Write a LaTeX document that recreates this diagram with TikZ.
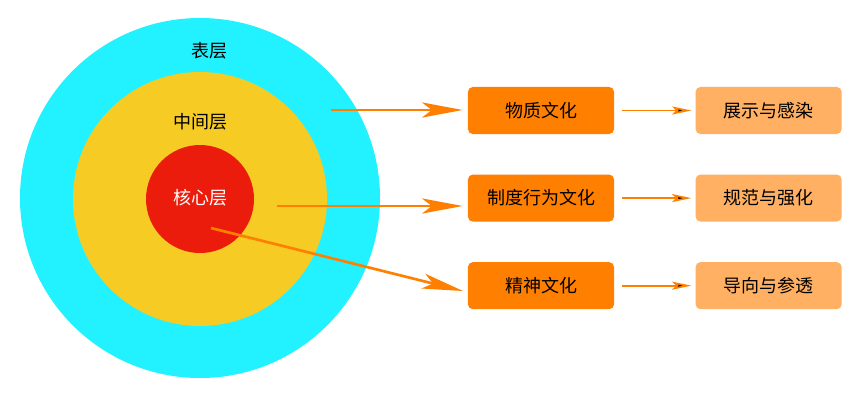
\documentclass[tikz,border=0pt]{standalone}
\usepackage{fontspec}
\setmainfont{Noto Sans CJK SC}
\usetikzlibrary{positioning}
\usetikzlibrary{arrows.meta}
\definecolor{outercyan}{HTML}{22F2FF}
\definecolor{middleyellow}{HTML}{F6CB23}
\definecolor{corered}{HTML}{EC1C0C}
\definecolor{culturefill}{HTML}{FF7F00}
\definecolor{effectfill}{HTML}{FFB062}
\tikzset{layer label/.style={font=\fontsize{12.8}{14}\selectfont, inner sep=0pt},}
\tikzset{culture node/.style={rectangle,rounded corners=0.12cm,fill=culturefill,minimum width=3.65cm,minimum height=1.175cm,inner sep=0pt,font=\fontsize{12.8}{14}\selectfont},}
\tikzset{effect node/.style={culture node,fill=effectfill},}
\tikzset{big arrow/.style={-{Stealth[length=1.02cm,width=0.38cm,inset=0.25cm]},line width=1.9pt,draw=culturefill},}
\tikzset{small arrow/.style={-{Stealth[length=0.48cm,width=0.2cm,inset=0.1cm]},line width=1.2pt,draw=culturefill},}

\begin{document}
\begin{tikzpicture}[x=0.025cm,y=-0.025cm]
     \useasboundingbox (0,0) rectangle (846,403);
     \fill[outercyan] (200,198) circle (180);
     \fill[middleyellow] (200,199) circle (127);
     \fill[corered] (200,199) circle (54);

     \node[layer label] (biao) at (209,51) {表层};
     \node[layer label] (zhong) at (200,122) {中间层};
     \node[layer label,text=white] (he) at (200,198) {核心层};

     \node[culture node] (wuzhi) at (541,110.5) {物质文化};
     \node[culture node] (zhidu) [below = 1cm of wuzhi] {制度行为文化};
     \node[culture node] (jingshen) [below = 1cm of zhidu] {精神文化};
     \node[effect node] (zhanshi) [right = 2.025cm of wuzhi] {展示与感染};
     \node[effect node] (guifan) [right = 2.025cm of zhidu] {规范与强化};
     \node[effect node] (daoxiang) [right = 2.025cm of jingshen] {导向与参透};

     \coordinate (biao out) at (331,110);
     \coordinate (zhong out) at (277,206);
     \coordinate (he out) at (211,228);
     \coordinate (jingshen in) at (463,291);

     \draw[big arrow,shorten >=0.125cm] (biao out) -- (biao out -| wuzhi.west);
     \draw[big arrow,shorten >=0.125cm] (zhong out) -- (zhong out -| zhidu.west);
     \draw[big arrow] (he out) -- (jingshen in);

     \path[small arrow,shorten <=0.2cm,shorten >=0.1cm]
     (wuzhi) edge (zhanshi)
     (zhidu) edge (guifan)
     (jingshen) edge (daoxiang);
  \end{tikzpicture}
\end{document}
